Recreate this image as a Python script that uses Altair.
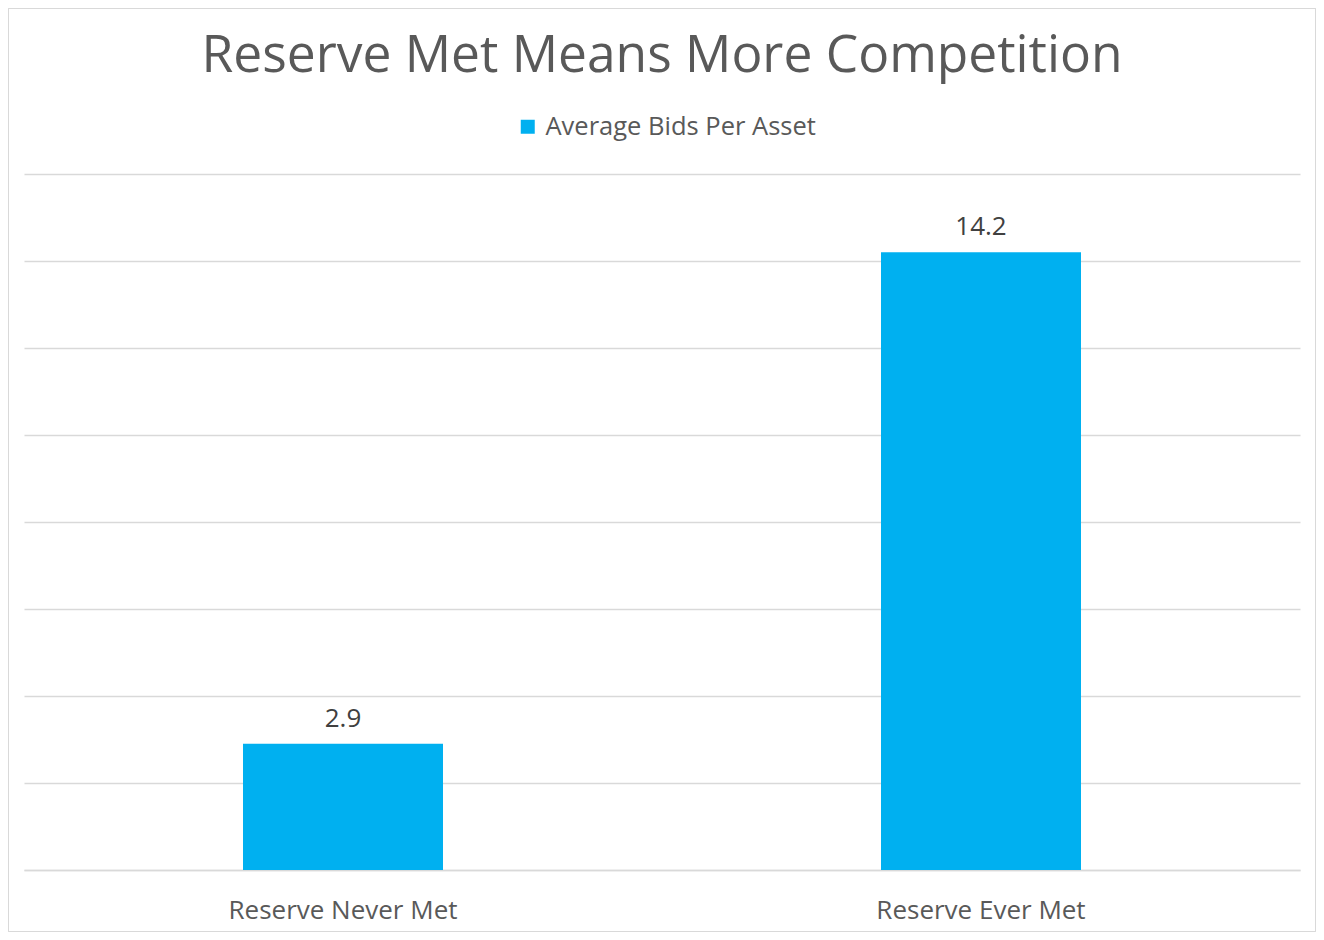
import altair as alt
import pandas as pd

categories = ["Reserve Never Met", "Reserve Ever Met"]
values = [2.9, 14.2]
labels = ["2.9", "14.2"]
series = "Average Bids Per Asset"
y_ticks = [0, 2, 4, 6, 8, 10, 12, 14, 16]

df = pd.DataFrame({"category": categories, "value": values, "label": labels, "series": [series] * len(categories)})

FONT = "Open Sans"
W, H = 1276, 696
PAD = {"left": 16, "right": 16, "top": 166, "bottom": 62}

base = alt.Chart(df).encode(
    x=alt.X("category:N", sort=categories, title=None,
            scale=alt.Scale(paddingInner=0, paddingOuter=0),
            axis=alt.Axis(labelAngle=0, ticks=False, tickSize=0, domain=True, domainColor="#D9D9D9",
                          domainWidth=1.3, labelFont=FONT, labelFontSize=26, labelColor="#595959",
                          labelBaseline="alphabetic", labelPadding=48, labelLimit=0, grid=False)),
)

bars = base.mark_bar(width=200, color="#00B0F0").encode(
    y=alt.Y("value:Q", title=None,
            scale=alt.Scale(domain=[0, 16], nice=False),
            axis=alt.Axis(values=y_ticks, labels=False, ticks=False, domain=False, grid=True,
                          gridColor="#D9D9D9", gridWidth=1.3)),
    color=alt.Color("series:N", scale=alt.Scale(range=["#00B0F0"]),
                    legend=alt.Legend(title=None, orient="none", legendX=491, legendY=-60,
                                      symbolType="square", symbolSize=196, symbolStrokeWidth=0,
                                      labelFont=FONT, labelFontSize=25.5, labelColor="#595959",
                                      labelLimit=0, padding=0, labelOffset=5)),
)

text = base.mark_text(font=FONT, fontSize=26, color="#404040", baseline="alphabetic", dy=-17).encode(
    y=alt.Y("value:Q"),
    text="label:N",
)

border = alt.Chart(df).mark_rect(fill=None, stroke="#D9D9D9", strokeWidth=1).encode(
    x=alt.value(-PAD["left"] + 0.5), x2=alt.value(W + PAD["right"] - 0.5),
    y=alt.value(-PAD["top"] + 0.5), y2=alt.value(H + PAD["bottom"] - 0.5)
)

chart = alt.layer(bars, text, border).properties(
    width=W, height=H,
    autosize=alt.AutoSizeParams(type="none"),
    padding=PAD,
    background="white",
    title=alt.Title("Reserve Met Means More Competition", font=FONT, fontSize=51.5, fontWeight="normal",
                    color="#595959", anchor="middle", baseline="alphabetic", frame="group", offset=-115),
).configure_view(stroke=None)

chart.save("out.html", embed_options={"renderer": "svg", "actions": False})
